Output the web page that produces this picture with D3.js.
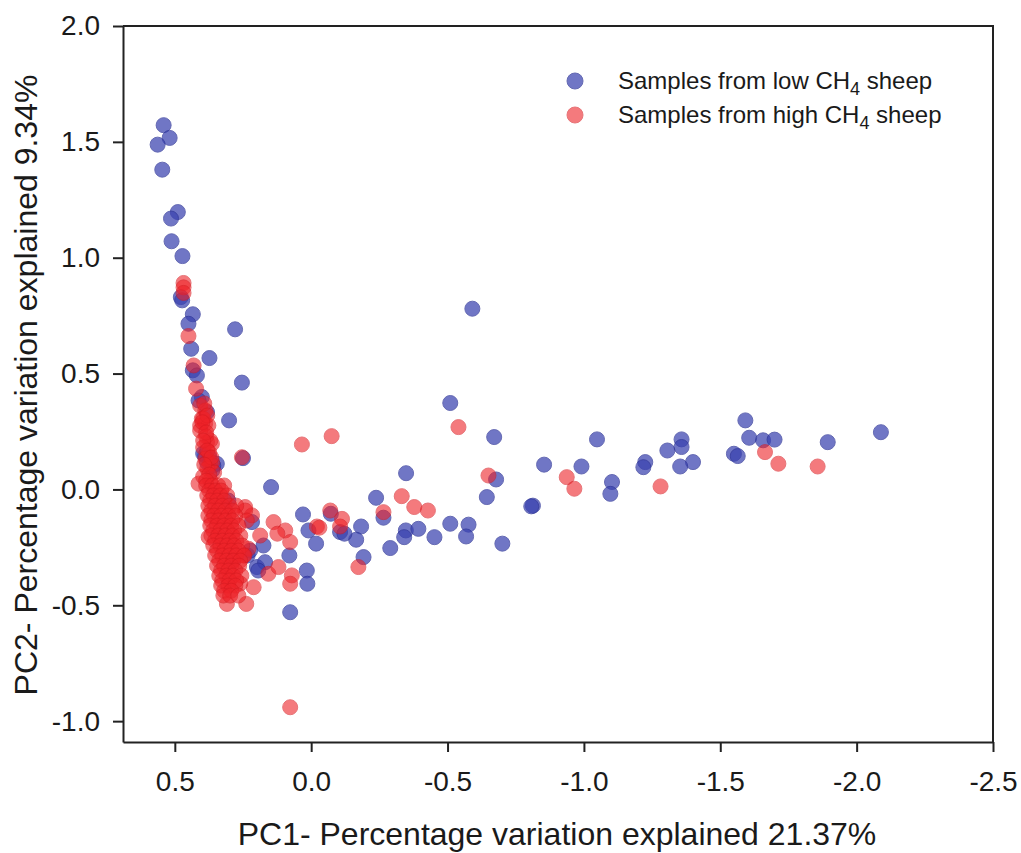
<!DOCTYPE html>
<html>
<head>
<meta charset="utf-8">
<script src="https://cdn.jsdelivr.net/npm/d3@7"></script>
<style>
    body { margin: 0; background: #fff; }
    text { font-family: "Liberation Sans", Arial, sans-serif; fill: #1a1a1a; }
    .axis path, .axis line { stroke: #222; stroke-width: 2; }
</style>
</head>
<body>
<div id="pca"></div>
<script>

// PC1 / PC2 scores
var lowSheep = [
    [0.541, 1.572], [0.519, 1.517], [0.563, 1.488], [0.546, 1.380], [0.489, 1.197],
    [0.514, 1.169], [0.512, 1.071], [0.472, 1.007], [0.478, 0.830], [0.473, 0.816],
    [0.434, 0.756], [0.450, 0.715], [0.440, 0.607], [0.279, 0.691], [0.373, 0.567],
    [0.434, 0.514], [0.419, 0.492], [0.254, 0.461], [0.401, 0.399], [0.413, 0.384],
    [0.382, 0.334], [0.301, 0.298], [0.389, 0.147], [0.373, 0.139], [0.250, 0.135],
    [0.346, 0.111], [0.147, 0.010], [0.217, -0.141], [0.030, -0.108], [-0.072, -0.105],
    [0.010, -0.177], [-0.018, -0.234], [0.175, -0.242], [0.080, -0.285], [0.233, -0.285],
    [0.199, -0.335], [0.169, -0.314], [0.016, -0.350], [0.014, -0.407], [0.077, -0.530],
    [-0.192, -0.292], [-0.510, 0.373], [-0.671, 0.226], [-0.854, 0.107], [-0.348, 0.070],
    [-0.678, 0.043], [-0.644, -0.033], [-0.813, -0.070], [-0.238, -0.036], [-0.265, -0.122],
    [-0.106, -0.184], [-0.183, -0.160], [-0.165, -0.217], [-0.122, -0.191], [-0.290, -0.253],
    [-0.347, -0.177], [-0.341, -0.206], [-0.393, -0.170], [-0.452, -0.206], [-0.510, -0.148],
    [-0.577, -0.152], [-0.568, -0.203], [-0.701, -0.234], [-0.591, 0.780], [-1.048, 0.216],
    [-1.358, 0.216], [-1.358, 0.183], [-1.306, 0.168], [-1.400, 0.118], [-1.353, 0.099],
    [-1.225, 0.118], [-1.218, 0.096], [-1.592, 0.298], [-1.606, 0.223], [-1.657, 0.212],
    [-1.699, 0.215], [-1.550, 0.154], [-1.564, 0.144], [-1.894, 0.204], [-2.089, 0.247],
    [-0.991, 0.099], [-1.103, 0.032], [-1.097, -0.019], [-0.807, -0.073],
    [0.396, 0.155], [0.382, 0.117], [0.359, 0.103], [0.304, -0.048], [0.363, 0.082],
    [0.224, -0.264], [0.286, -0.307], [0.194, -0.350]
];

var highSheep = [
    [0.468, 0.891], [0.468, 0.872], [0.468, 0.848], [0.450, 0.662], [0.431, 0.535],
    [0.422, 0.435], [0.401, 0.305], [0.389, 0.284], [0.407, 0.276], [0.382, 0.204],
    [0.364, 0.197], [0.254, 0.139], [0.034, 0.194], [-0.075, 0.230], [0.370, 0.111],
    [0.242, -0.076], [0.217, -0.112], [0.138, -0.141], [0.095, -0.177], [0.124, -0.191],
    [-0.070, -0.091], [-0.021, -0.160], [-0.030, -0.165], [0.187, -0.199], [0.077, -0.227],
    [0.230, -0.256], [0.248, -0.285], [0.157, -0.364], [0.120, -0.335], [0.071, -0.371],
    [0.077, -0.407], [-0.173, -0.335], [0.309, -0.494], [0.238, -0.494], [-0.540, 0.269],
    [-0.650, 0.060], [-0.332, -0.029], [-0.378, -0.076], [-0.428, -0.091], [-0.265, -0.098],
    [-0.113, -0.127], [-0.106, -0.160], [-1.664, 0.161], [-1.713, 0.111], [-1.857, 0.099],
    [-0.937, 0.053], [-0.965, 0.003], [-1.281, 0.013], [0.077, -0.940],
    [0.211, -0.422], [0.260, -0.406], [0.242, -0.091], [0.236, -0.134], [0.413, 0.025],
    [0.376, -0.206],
    // dense column near PC1 = 0.4
    [0.407, 0.362], [0.388, 0.341], [0.396, 0.306], [0.377, 0.276], [0.407, 0.254],
    [0.385, 0.229], [0.370, 0.211], [0.396, 0.181], [0.374, 0.159], [0.388, 0.133],
    [0.363, 0.116], [0.381, 0.090], [0.356, 0.073], [0.396, 0.056], [0.370, 0.038],
    [0.392, 0.371], [0.381, 0.319], [0.399, 0.290], [0.385, 0.246], [0.396, 0.211],
    [0.381, 0.168], [0.366, 0.138], [0.392, 0.107], [0.374, 0.064], [0.385, 0.038],
    [0.385, 0.017], [0.363, 0.017], [0.341, 0.017], [0.319, 0.017],
    [0.374, -0.005], [0.352, -0.005], [0.330, -0.005],
    [0.381, -0.026], [0.359, -0.026], [0.333, -0.026], [0.308, -0.026],
    [0.370, -0.048], [0.345, -0.048], [0.319, -0.048],
    [0.377, -0.070], [0.352, -0.070], [0.326, -0.070], [0.300, -0.070], [0.275, -0.070],
    [0.366, -0.091], [0.341, -0.091], [0.315, -0.091], [0.289, -0.091],
    [0.377, -0.113], [0.356, -0.113], [0.330, -0.113], [0.304, -0.113], [0.278, -0.113],
    [0.366, -0.134], [0.341, -0.134], [0.315, -0.134], [0.289, -0.134],
    [0.370, -0.156], [0.345, -0.156], [0.319, -0.156], [0.293, -0.156], [0.267, -0.156],
    [0.359, -0.177], [0.333, -0.177], [0.308, -0.177], [0.282, -0.177],
    [0.366, -0.199], [0.341, -0.199], [0.315, -0.199], [0.289, -0.199], [0.260, -0.199],
    [0.352, -0.221], [0.326, -0.221], [0.300, -0.221], [0.275, -0.221],
    [0.359, -0.242], [0.333, -0.242], [0.308, -0.242], [0.282, -0.242], [0.253, -0.242],
    [0.345, -0.264], [0.319, -0.264], [0.293, -0.264], [0.267, -0.264],
    [0.352, -0.285], [0.326, -0.285], [0.300, -0.285], [0.275, -0.285], [0.245, -0.285],
    [0.337, -0.307], [0.311, -0.307], [0.286, -0.307], [0.260, -0.307],
    [0.345, -0.329], [0.319, -0.329], [0.293, -0.329], [0.264, -0.329],
    [0.330, -0.350], [0.304, -0.350], [0.278, -0.350],
    [0.337, -0.372], [0.311, -0.372], [0.286, -0.372], [0.256, -0.372],
    [0.326, -0.393], [0.300, -0.393], [0.275, -0.393],
    [0.330, -0.415], [0.304, -0.415], [0.278, -0.415],
    [0.319, -0.437], [0.293, -0.437],
    [0.322, -0.458], [0.297, -0.458], [0.267, -0.458]
];

var xTicks = [0.5, 0.0, -0.5, -1.0, -1.5, -2.0, -2.5];
var yTicks = [-1.0, -0.5, 0.0, 0.5, 1.0, 1.5, 2.0];
var legendLabels = ["Samples from low CH", "Samples from high CH"];
var xTitle = "PC1- Percentage variation explained 21.37%";
var yTitle = "PC2- Percentage variation explained 9.34%";

var W = 1021, H = 853;
var margin = {top: 26, right: 28, bottom: 111, left: 123},
    width = W - margin.left - margin.right,
    height = H - margin.top - margin.bottom;

// pc1 axis runs from positive to negative
var x = d3.scaleLinear().domain([0.69, -2.5]).range([0, width]);
var y = d3.scaleLinear().domain([-1.09, 2.0]).range([height, 0]);

var svg = d3.select("#pca").append("svg")
    .attr("width", W)
    .attr("height", H);

var g = svg.append("g")
    .attr("transform", "translate(" + margin.left + "," + margin.top + ")");

var fmt = function(d) { return d.toFixed(1); };

var xAxis = d3.axisBottom(x).tickValues(xTicks).tickFormat(fmt)
        .tickSizeInner(10).tickSizeOuter(0).tickPadding(19),
    yAxis = d3.axisLeft(y).tickValues(yTicks).tickFormat(fmt)
        .tickSizeInner(10).tickSizeOuter(0).tickPadding(13);

// frame (top / right)
g.append("path")
    .attr("d", "M0,0H" + width + "V" + height)
    .attr("fill", "none")
    .attr("stroke", "#222")
    .attr("stroke-width", 2);

g.append("g")
    .attr("class", "x axis")
    .attr("transform", "translate(0," + height + ")")
    .call(xAxis)
    .selectAll("text").style("font-size", "28px");

g.append("g")
    .attr("class", "y axis")
    .call(yAxis)
    .selectAll("text").style("font-size", "28px");

g.selectAll(".axis text").attr("fill", "#1a1a1a");

function drawDots(data, cls, fill, stroke, op) {
    g.append("g").attr("class", cls)
        .selectAll("circle")
        .data(data)
        .enter().append("circle")
        .attr("cx", function(d) { return x(d[0]); })
        .attr("cy", function(d) { return y(d[1]); })
        .attr("r", 7.5)
        .attr("fill", fill)
        .attr("stroke", stroke)
        .attr("stroke-width", 1)
        .attr("opacity", op);
}

drawDots(lowSheep, "low", "#3a42b0", "#2a3196", 0.72);
drawDots(highSheep, "high", "#ee2228", "#d81a20", 0.6);

// legend
var legend = svg.append("g").attr("transform", "translate(575,81)");
var legendColors = [["#3a42b0", "#2a3196", 0.72], ["#ee2228", "#d81a20", 0.6]];

legendLabels.forEach(function(lab, i) {
    var row = legend.append("g").attr("transform", "translate(0," + (i * 34) + ")");
    row.append("circle")
        .attr("r", 8)
        .attr("fill", legendColors[i][0])
        .attr("stroke", legendColors[i][1])
        .attr("opacity", legendColors[i][2]);
    var t = row.append("text")
        .attr("x", 43)
        .attr("y", 8)
        .style("font-size", "24px");
    t.append("tspan").text(lab);
    t.append("tspan").attr("dy", 6).style("font-size", "18px").text("4");
    t.append("tspan").attr("dy", -6).text(" sheep");
});

// axis titles
svg.append("text")
    .attr("x", 557)
    .attr("y", 845)
    .attr("text-anchor", "middle")
    .style("font-size", "32px")
    .text(xTitle);

svg.append("text")
    .attr("transform", "translate(37," + 385 + ") rotate(-90)")
    .attr("text-anchor", "middle")
    .style("font-size", "32px")
    .text(yTitle);

</script>
</body>
</html>
